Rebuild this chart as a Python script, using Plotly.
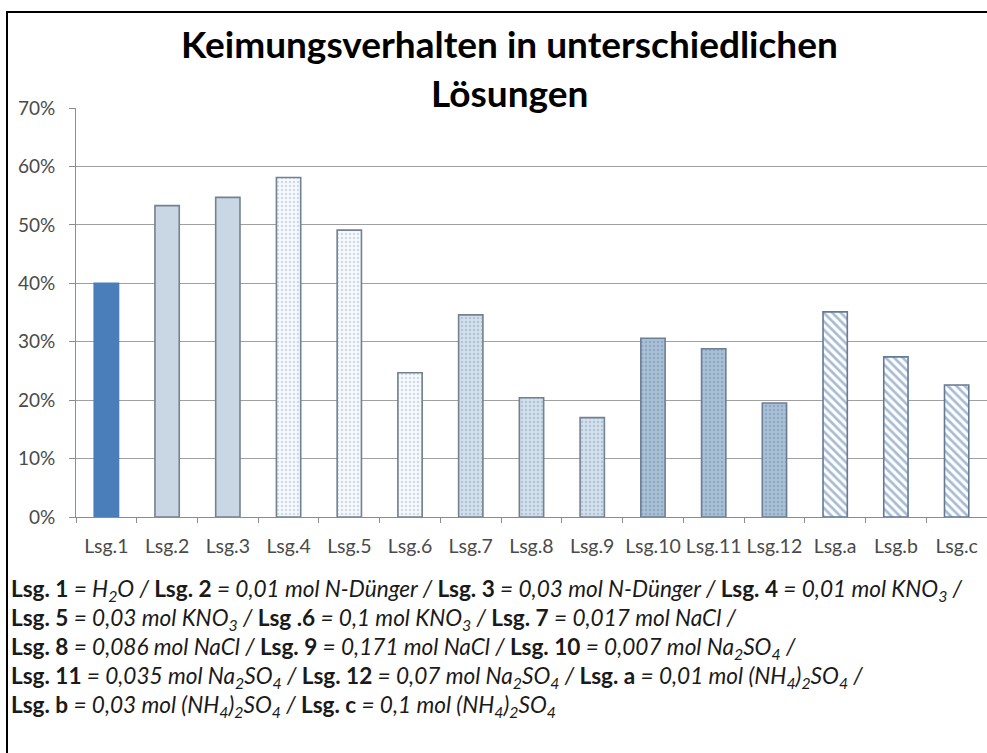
import plotly.graph_objects as go

categories = ["Lsg.1", "Lsg.2", "Lsg.3", "Lsg.4", "Lsg.5", "Lsg.6", "Lsg.7", "Lsg.8",
              "Lsg.9", "Lsg.10", "Lsg.11", "Lsg.12", "Lsg.a", "Lsg.b", "Lsg.c"]
values = [0.40, 0.533, 0.547, 0.581, 0.491, 0.247, 0.346, 0.204,
          0.170, 0.306, 0.288, 0.195, 0.351, 0.274, 0.226]
y_ticks = [0, 0.1, 0.2, 0.3, 0.4, 0.5, 0.6, 0.7]
y_tick_labels = ["0%", "10%", "20%", "30%", "40%", "50%", "60%", "70%"]

title_lines = ["Keimungsverhalten in unterschiedlichen", "Lösungen"]

legend_lines = [
    "<b>Lsg. 1</b><i> = H<sub>2</sub>O / </i><b>Lsg. 2</b><i> = 0,01 mol N-Dünger / </i><b>Lsg. 3</b><i> = 0,03 mol N-Dünger / </i><b>Lsg. 4</b><i> = 0,01 mol KNO<sub>3</sub> /</i>",
    "<b>Lsg. 5</b><i> = 0,03 mol KNO<sub>3</sub> / </i><b>Lsg .6</b><i> = 0,1 mol KNO<sub>3</sub> / </i><b>Lsg. 7</b><i> = 0,017 mol NaCl /</i>",
    "<b>Lsg. 8</b><i> = 0,086 mol NaCl / </i><b>Lsg. 9</b><i> = 0,171 mol NaCl / </i><b>Lsg. 10</b><i> = 0,007 mol Na<sub>2</sub>SO<sub>4</sub> /</i>",
    "<b>Lsg. 11</b><i> = 0,035 mol Na<sub>2</sub>SO<sub>4</sub> / </i><b>Lsg. 12</b><i> = 0,07 mol Na<sub>2</sub>SO<sub>4</sub> / </i><b>Lsg. a</b><i> = 0,01 mol (NH<sub>4</sub>)<sub>2</sub>SO<sub>4</sub> /</i>",
    "<b>Lsg. b</b><i> = 0,03 mol (NH<sub>4</sub>)<sub>2</sub>SO<sub>4</sub> / </i><b>Lsg. c</b><i> = 0,1 mol (NH<sub>4</sub>)<sub>2</sub>SO<sub>4</sub></i>",
]

# style groups: which bars share a fill style
style_groups = [
    dict(idx=[0], bg="#4a7ebb", fg="#4a7ebb", shape="", line="#4a7ebb"),
    dict(idx=[1, 2], bg="#c8d7e3", fg="#b9cad8", shape="", line="#74818f"),
    dict(idx=[3, 4, 5], bg="#f6f9fc", fg="#a9bacb", shape=".", line="#74818f"),
    dict(idx=[6, 7, 8], bg="#d3e0ec", fg="#8ea7c0", shape=".", line="#74818f"),
    dict(idx=[9, 10, 11], bg="#a9c0d6", fg="#7590ad", shape=".", line="#6c7e94"),
    dict(idx=[12, 13, 14], bg="#ffffff", fg="#4f79a8", shape="\\", line="#647a94"),
]

FONT = "Lato"
W, H = 987, 753
PL, PR, PT, PB = 76, 987, 108, 517

fig = go.Figure()
for g in style_groups:
    fig.add_trace(go.Bar(
        x=[categories[i] for i in g["idx"]],
        y=[values[i] for i in g["idx"]],
        width=0.4,
        marker=dict(
            color=g["bg"],
            line=dict(color=g["line"], width=1.6),
            pattern=dict(shape=g["shape"], fgcolor=g["fg"], bgcolor=g["bg"],
                         size=6 if g["shape"] == "\\" else 4,
                         solidity=0.45 if g["shape"] == "\\" else 0.3,
                         fillmode="overlay"),
        ),
        hoverinfo="x+y",
    ))


def px_x(x):
    return (x - PL) / (PR - PL)


def px_y(y):
    return (PB - y) / (PB - PT)


annotations = []
annotations.append(dict(text="<b>" + title_lines[0] + "</b>", x=px_x(509), y=px_y(43),
                        xref="paper", yref="paper", showarrow=False,
                        font=dict(family=FONT, size=37, color="#000000"),
                        xanchor="center", yanchor="middle"))
annotations.append(dict(text="<b>" + title_lines[1] + "</b>", x=px_x(509), y=px_y(92),
                        xref="paper", yref="paper", showarrow=False,
                        font=dict(family=FONT, size=37, color="#000000"),
                        xanchor="center", yanchor="middle"))
line_y = [590, 619, 648, 677, 706]
for txt, yy in zip(legend_lines, line_y):
    annotations.append(dict(text=txt, x=px_x(9), y=px_y(yy), xref="paper", yref="paper",
                            showarrow=False, xanchor="left", yanchor="middle", align="left",
                            font=dict(family=FONT, size=22.6, color="#1a1a1a")))

fig.update_layout(
    width=W, height=H,
    margin=dict(l=PL, r=W - PR, t=PT, b=H - PB, pad=0, autoexpand=False),
    paper_bgcolor="white", plot_bgcolor="white",
    showlegend=False,
    barmode="overlay",
    annotations=annotations,
    shapes=[dict(type="rect", xref="paper", yref="paper",
                 x0=px_x(7), x1=px_x(1010), y0=px_y(790), y1=px_y(12),
                 line=dict(color="#000000", width=2), fillcolor="rgba(0,0,0,0)", layer="above")],
    font=dict(family=FONT),
)
fig.update_yaxes(range=[0, 0.7], tickvals=y_ticks, ticktext=y_tick_labels,
                 showgrid=True, gridcolor="#a0a0a0", gridwidth=1,
                 showline=True, linecolor="#8c8c8c", linewidth=1,
                 ticks="outside", ticklen=6, tickcolor="#8c8c8c",
                 tickfont=dict(family=FONT, size=19, color="#4a4a4a"),
                 ticklabelstandoff=10, zeroline=False, fixedrange=True, automargin=False)
fig.update_xaxes(type="category", categoryorder="array", categoryarray=categories,
                 range=[-0.5, 14.5], tickangle=0,
                 showline=True, linecolor="#8c8c8c", linewidth=1,
                 ticks="outside", ticklen=5, tickcolor="#8c8c8c", tickson="boundaries",
                 tickfont=dict(family=FONT, size=19.5, color="#4a4a4a"),
                 ticklabelstandoff=12, fixedrange=True, automargin=False)

fig.write_html("out.html", config={"displayModeBar": False},
               post_script="document.body.style.margin='0px';")
